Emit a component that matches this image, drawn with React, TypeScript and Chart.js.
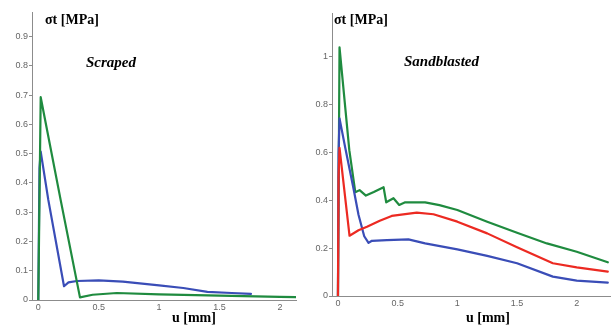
import React, { useEffect, useRef } from "react";
import { Chart, registerables } from "chart.js";

Chart.register(...registerables);

// ---------- Data: Scraped (left) ----------
const scrapedBlueX = [0, 0.01, 0.02, 0.083, 0.213, 0.25, 0.32, 0.5, 0.7, 1.0, 1.2, 1.4, 1.6, 1.76];
const scrapedBlueY = [0, 0.45, 0.507, 0.342, 0.047, 0.06, 0.065, 0.067, 0.063, 0.05, 0.041, 0.028, 0.024, 0.021];
const scrapedGreenX = [0, 0.02, 0.185, 0.345, 0.45, 0.65, 1.0, 1.5, 2.0, 2.13];
const scrapedGreenY = [0, 0.693, 0.342, 0.009, 0.018, 0.024, 0.019, 0.015, 0.011, 0.01];

// ---------- Data: Sandblasted (right) ----------
const sandGreenX = [0, 0.013, 0.095, 0.145, 0.181, 0.234, 0.3, 0.382, 0.404, 0.465, 0.513, 0.563, 0.73, 0.85, 1.0, 1.25, 1.5, 1.75, 2.0, 2.26];
const sandGreenY = [0, 1.04, 0.61, 0.434, 0.443, 0.42, 0.435, 0.455, 0.392, 0.409, 0.381, 0.392, 0.392, 0.38, 0.36, 0.311, 0.265, 0.22, 0.185, 0.141];
const sandRedX = [0, 0.005, 0.013, 0.097, 0.172, 0.243, 0.35, 0.45, 0.66, 0.8, 1.0, 1.25, 1.5, 1.8, 2.0, 2.26];
const sandRedY = [0, 0.5, 0.62, 0.252, 0.275, 0.29, 0.315, 0.335, 0.349, 0.342, 0.311, 0.262, 0.204, 0.137, 0.12, 0.102];
const sandBlueX = [0, 0.005, 0.013, 0.061, 0.13, 0.172, 0.22, 0.256, 0.284, 0.41, 0.59, 0.73, 1.0, 1.25, 1.5, 1.8, 2.0, 2.26];
const sandBlueY = [0, 0.6, 0.743, 0.62, 0.45, 0.34, 0.25, 0.222, 0.231, 0.234, 0.237, 0.22, 0.195, 0.168, 0.137, 0.081, 0.064, 0.056];

// ---------- Tick labels ----------
const xTicks = [0, 0.5, 1, 1.5, 2];
const scrapedYTicks = [0, 0.1, 0.2, 0.3, 0.4, 0.5, 0.6, 0.7, 0.8, 0.9];
const sandYTicks = [0, 0.2, 0.4, 0.6, 0.8, 1];

const yTitle = "σt [MPa]";
const xTitle = "u [mm]";
const scrapedLabel = "Scraped";
const sandLabel = "Sandblasted";

const GREEN = "#1f8b3f";
const BLUE = "#3a4db7";
const RED = "#ec2a22";

const pts = (xs: number[], ys: number[]) => xs.map((x, i) => ({ x, y: ys[i] }));

const fmt = (v: number) => String(+Number(v).toFixed(2));

type Txt = { text: string; x: number; y: number; font: string };

function buildConfig(opts: {
  datasets: any[];
  xMin: number;
  xMax: number;
  yMax: number;
  yTicks: number[];
  yWidth: number;
  xHeight: number;
  padTop: number;
  padRight: number;
  texts: Txt[];
}) {
  const textPlugin = {
    id: "texts",
    afterDraw(chart: any) {
      const ctx = chart.ctx;
      ctx.save();
      ctx.fillStyle = "#000";
      ctx.textAlign = "left";
      ctx.textBaseline = "alphabetic";
      for (const t of opts.texts) {
        ctx.font = t.font;
        ctx.fillText(t.text, t.x, t.y);
      }
      ctx.restore();
    },
  };
  return {
    type: "line",
    data: { datasets: opts.datasets },
    plugins: [textPlugin],
    options: {
      responsive: false,
      animation: false,
      devicePixelRatio: 1,
      layout: { padding: { top: opts.padTop, right: opts.padRight, left: 0, bottom: 0 } },
      plugins: { legend: { display: false }, tooltip: { enabled: false }, title: { display: false } },
      elements: {
        point: { radius: 0 },
        line: { tension: 0, borderWidth: 2.2, borderJoinStyle: "round", borderCapStyle: "round" },
      },
      scales: {
        x: {
          type: "linear",
          min: opts.xMin,
          max: opts.xMax,
          afterBuildTicks: (s: any) => {
            s.ticks = xTicks.map((v) => ({ value: v }));
          },
          afterFit: (s: any) => {
            s.height = opts.xHeight;
          },
          ticks: {
            callback: (v: any) => fmt(v),
            font: { family: "Liberation Sans", size: 9 },
            color: "#666",
            padding: 2,
            maxRotation: 0,
            autoSkip: false,
          },
          grid: { drawOnChartArea: false, drawTicks: false },
          border: { color: "#8c8c8c", width: 1 },
        },
        y: {
          type: "linear",
          min: 0,
          max: opts.yMax,
          afterBuildTicks: (s: any) => {
            s.ticks = opts.yTicks.map((v) => ({ value: v }));
          },
          afterFit: (s: any) => {
            s.width = opts.yWidth;
          },
          ticks: {
            callback: (v: any) => fmt(v),
            font: { family: "Liberation Sans", size: 9 },
            color: "#666",
            padding: 1,
            autoSkip: false,
          },
          grid: { drawOnChartArea: false, drawTicks: true, tickLength: 3, tickColor: "#8c8c8c" },
          border: { color: "#8c8c8c", width: 1 },
        },
      },
    },
  } as any;
}

export default function App() {
  const leftRef = useRef<HTMLCanvasElement>(null);
  const rightRef = useRef<HTMLCanvasElement>(null);

  useEffect(() => {
    const titleFont = "bold 14px 'Liberation Serif'";
    const labelFont = "italic bold 15px 'Liberation Serif'";
    const left = new Chart(
      leftRef.current as HTMLCanvasElement,
      buildConfig({
        datasets: [
          { data: pts(scrapedGreenX, scrapedGreenY), borderColor: GREEN, fill: false },
          { data: pts(scrapedBlueX, scrapedBlueY), borderColor: BLUE, fill: false },
        ],
        xMin: -0.052,
        xMax: 2.133,
        yMax: 0.984,
        yTicks: scrapedYTicks,
        yWidth: 32,
        xHeight: 27,
        padTop: 12,
        padRight: 9,
        texts: [
          { text: yTitle, x: 45, y: 24, font: titleFont },
          { text: scrapedLabel, x: 86, y: 67, font: labelFont },
          { text: xTitle, x: 172, y: 322, font: titleFont },
        ],
      })
    );
    const right = new Chart(
      rightRef.current as HTMLCanvasElement,
      buildConfig({
        datasets: [
          { data: pts(sandRedX, sandRedY), borderColor: RED, fill: false },
          { data: pts(sandBlueX, sandBlueY), borderColor: BLUE, fill: false },
          { data: pts(sandGreenX, sandGreenY), borderColor: GREEN, fill: false },
        ],
        xMin: -0.05,
        xMax: 2.287,
        yMax: 1.184,
        yTicks: sandYTicks,
        yWidth: 27,
        xHeight: 31,
        padTop: 13,
        padRight: 0,
        texts: [
          { text: yTitle, x: 29, y: 24, font: titleFont },
          { text: sandLabel, x: 99, y: 66, font: labelFont },
          { text: xTitle, x: 161, y: 322, font: titleFont },
        ],
      })
    );
    return () => {
      left.destroy();
      right.destroy();
    };
  }, []);

  return (
    <div style={{ position: "absolute", left: 0, top: 0, width: 611, height: 327, background: "#fff" }}>
      <canvas ref={leftRef} width={305} height={327} style={{ position: "absolute", left: 0, top: 0, width: 305, height: 327 }} />
      <canvas ref={rightRef} width={306} height={327} style={{ position: "absolute", left: 305, top: 0, width: 306, height: 327 }} />
    </div>
  );
}
